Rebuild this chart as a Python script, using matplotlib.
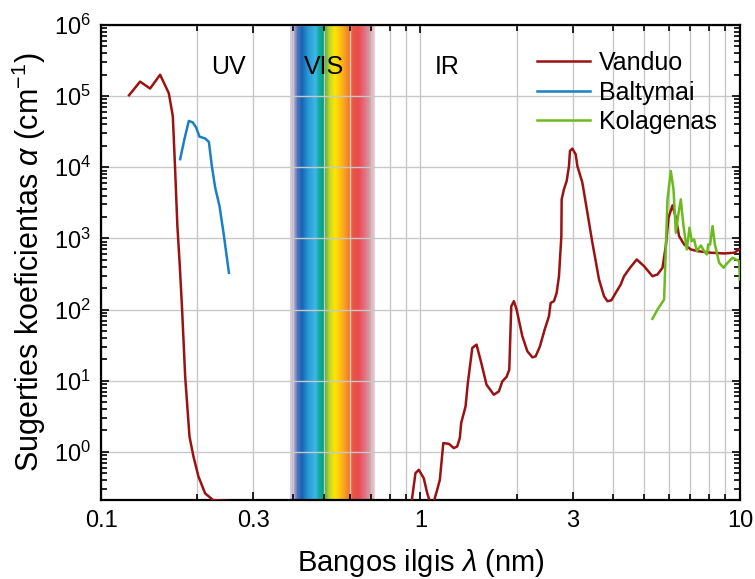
import numpy as np
import matplotlib
matplotlib.use("Agg")
import matplotlib.pyplot as plt
from matplotlib.colors import LinearSegmentedColormap, Normalize
from matplotlib.ticker import FixedLocator, NullFormatter, LogLocator, FixedFormatter

plt.rcParams['font.family'] = ['Liberation Sans', 'DejaVu Sans']
plt.rcParams['mathtext.fontset'] = 'custom'
plt.rcParams['mathtext.rm'] = 'Liberation Sans'
plt.rcParams['mathtext.it'] = 'Liberation Sans:italic'

# water (Vanduo), UV part
water_uv_x = [0.1224, 0.1325, 0.1424, 0.1531, 0.163, 0.1678, 0.1705, 0.1734, 0.1765, 0.1794,
              0.1834, 0.1892, 0.1947, 0.2018, 0.2118, 0.2244, 0.263]
water_uv_y = [1.03e5, 1.6e5, 1.28e5, 2.0e5, 1.1e5, 5.2e4, 1.0e4, 1490, 400, 100,
              11.5, 1.64, 0.86, 0.45, 0.26, 0.21, 0.2]

# water (Vanduo), IR part
water_ir_x = [0.9304, 0.9646, 0.9879, 1.024, 1.050, 1.070, 1.085, 1.101, 1.128, 1.150, 1.179,
              1.227, 1.272, 1.303, 1.328, 1.341, 1.384, 1.407, 1.453, 1.498, 1.550, 1.610,
              1.697, 1.760, 1.804, 1.860, 1.897, 1.924, 1.961, 2.000, 2.084, 2.161, 2.240,
              2.294, 2.366, 2.448, 2.525, 2.556, 2.618, 2.669, 2.714, 2.761, 2.767, 2.813,
              2.869, 2.917, 2.938, 2.989, 3.061, 3.099, 3.212, 3.331, 3.453, 3.622, 3.755,
              3.849, 3.961, 4.087, 4.236, 4.338, 4.530, 4.755, 5.012, 5.324, 5.521, 5.724,
              5.861, 5.977, 6.152, 6.301, 6.45, 6.69, 7.02, 7.37, 8.11, 8.93, 9.60, 9.95]
water_ir_y = [0.15, 0.501, 0.558, 0.426, 0.262, 0.2, 0.15, 0.2, 0.292, 0.404, 1.326,
              1.296, 1.127, 1.188, 1.56, 2.54, 4.34, 9.28, 28.9, 32.1, 17.8, 8.78,
              6.35, 7.07, 9.78, 11.3, 14.3, 111, 131, 100, 42.1, 25.9, 21.3,
              22.0, 30.4, 52.3, 80.5, 124, 131, 172, 294, 1077, 3540, 4900,
              6410, 1.04e4, 1.7e4, 1.83e4, 1.52e4, 1.04e4, 6090, 2300, 870, 265, 154,
              131, 135, 172, 225, 294, 387, 506, 407, 294, 311, 387,
              779, 1958, 2917, 1958, 1077, 823, 700, 662, 629, 615, 629, 700]

# proteins (Baltymai)
protein_x = [0.1769, 0.1824, 0.1883, 0.1939, 0.1986, 0.2033, 0.2118, 0.2176, 0.2223,
             0.2277, 0.2349, 0.2418, 0.2514]
protein_y = [1.3e4, 2.48e4, 4.49e4, 4.26e4, 3.6e4, 2.7e4, 2.54e4, 2.27e4, 1.04e4,
             5180, 2850, 1200, 329]

# collagen (Kolagenas)
collagen_x = [5.324, 5.521, 5.790, 5.934, 6.077, 6.197, 6.301, 6.405, 6.531, 6.66, 6.82,
              6.954, 7.07, 7.19, 7.33, 7.545, 7.73, 7.88, 7.96, 8.07, 8.21, 8.35, 8.61,
              8.89, 9.15, 9.49, 9.95, 10.0]
collagen_y = [74, 100, 138, 3540, 8870, 4900, 1203, 2060, 3540, 1490, 700,
              1415, 916, 968, 662, 797, 662, 595, 823, 823, 1490, 823, 455,
              387, 455, 535, 479, 265]

x_tick_vals = [0.1, 0.3, 1, 3, 10]
x_tick_labels = ['0.1', '0.3', '1', '3', '10']
y_tick_vals = [1e0, 1e1, 1e2, 1e3, 1e4, 1e5, 1e6]

# visible band colour stops (wavelength, colour)
vis_stops = [(0.390, '#ddd5e8'), (0.400, '#b9a9d2'), (0.412, '#4f72b8'), (0.425, '#1565b5'),
             (0.445, '#2a98d6'), (0.468, '#3ab8e6'), (0.483, '#12a89e'), (0.498, '#00a070'),
             (0.506, '#6cb63c'), (0.520, '#c8d822'), (0.540, '#ffe500'), (0.565, '#fbb81a'),
             (0.590, '#f58a25'), (0.615, '#ee5540'), (0.640, '#e84a50'), (0.670, '#e07282'),
             (0.700, '#d8a2aa'), (0.720, '#ecd2d5')]

fig = plt.figure(figsize=(7.55, 5.79), dpi=100)
ax = fig.add_axes([0.1338, 0.1364, 0.8462, 0.8204])
ax.set_xscale('log')
ax.set_yscale('log')
ax.set_xlim(0.1, 10)
ax.set_ylim(0.21, 1e6)

# visible spectrum band
w0, w1 = vis_stops[0][0], vis_stops[-1][0]
cmap = LinearSegmentedColormap.from_list(
    'vis', [((w - w0) / (w1 - w0), c) for w, c in vis_stops])
edges = np.linspace(w0, w1, 300)
centers = 0.5 * (edges[:-1] + edges[1:])
ax.pcolormesh(edges, [0.21, 1e6], centers[np.newaxis, :], cmap=cmap,
              norm=Normalize(w0, w1), shading='flat', zorder=0, rasterized=True)

ax.set_axisbelow(True)
ax.xaxis.set_major_locator(FixedLocator(x_tick_vals))
ax.xaxis.set_major_formatter(FixedFormatter(x_tick_labels))
ax.xaxis.set_minor_locator(LogLocator(base=10, subs=np.arange(2, 10)))
ax.xaxis.set_minor_formatter(NullFormatter())
ax.yaxis.set_major_locator(FixedLocator(y_tick_vals))
ax.yaxis.set_minor_locator(LogLocator(base=10, subs=np.arange(2, 10), numticks=20))
ax.yaxis.set_minor_formatter(NullFormatter())

ax.grid(True, which='major', axis='both', color='#c8c8c8', linewidth=1.0)
ax.grid(True, which='minor', axis='x', color='#c8c8c8', linewidth=1.0)

ax.tick_params(which='both', direction='in', top=True, right=True, labelsize=17,
               width=1.2, color='black', pad=7)
ax.tick_params(which='major', length=6)
ax.tick_params(which='minor', length=4)
for s in ax.spines.values():
    s.set_linewidth(1.6)

ax.plot(water_uv_x, water_uv_y, color='#9b1212', lw=1.8, label='Vanduo', zorder=3)
ax.plot(water_ir_x, water_ir_y, color='#9b1212', lw=1.8, zorder=3)
ax.plot(protein_x, protein_y, color='#1a80c4', lw=1.8, label='Baltymai', zorder=3)
ax.plot(collagen_x, collagen_y, color='#6cbb1e', lw=1.8, label='Kolagenas', zorder=3)

ax.text(0.25, 2.6e5, 'UV', fontsize=18, ha='center', va='center')
ax.text(0.5, 2.6e5, 'VIS', fontsize=18, ha='center', va='center')
ax.text(1.215, 2.6e5, 'IR', fontsize=18, ha='center', va='center')

ax.legend(loc='upper left', bbox_to_anchor=(0.683, 0.945), frameon=False, fontsize=18,
          handlelength=2.1, handletextpad=0.35, labelspacing=0.22, borderpad=0,
          borderaxespad=0)

ax.set_xlabel(r'Bangos ilgis $\lambda$ (nm)', fontsize=21, labelpad=11)
ax.set_ylabel(r'Sugerties koeficientas $\alpha$ (cm$^{-1}$)', fontsize=22, labelpad=4)

fig.savefig('out.png', dpi=100)
